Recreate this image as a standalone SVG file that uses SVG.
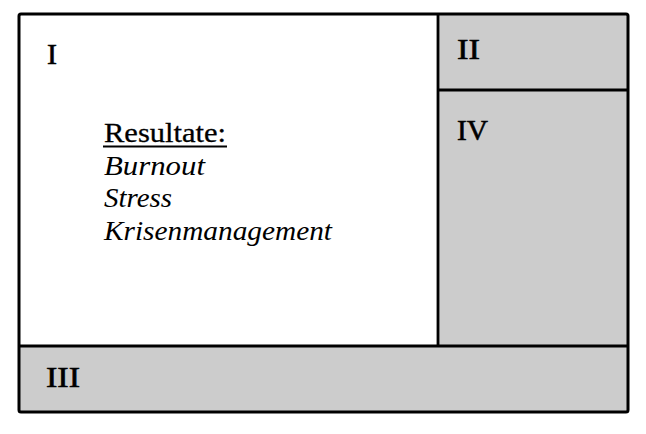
<svg xmlns="http://www.w3.org/2000/svg" width="646" height="434" viewBox="0 0 646 434">
<style>
.t{font-family:"Liberation Serif","Times New Roman",serif;font-size:28px;fill:#000;stroke:#000;stroke-width:0.3}
.r{font-size:30px;stroke-width:0.6}
.i{font-style:italic;stroke-width:0}
.g{fill:#cccccc}
.ln{stroke:#000;stroke-width:2.8;fill:none}
</style>
<rect x="0" y="0" width="646" height="434" fill="#fff"/>
<g id="quadrant-I">
<rect x="19" y="14" width="419" height="332" fill="#fff"/>
<text class="t r" x="47" y="64" textLength="10" lengthAdjust="spacingAndGlyphs">I</text>
<text class="t" x="104" y="142" textLength="122" lengthAdjust="spacingAndGlyphs">Resultate:</text>
<line x1="103" y1="146.5" x2="227" y2="146.5" stroke="#000" stroke-width="1.8"/>
<text class="t i" x="104" y="175" textLength="101" lengthAdjust="spacingAndGlyphs">Burnout</text>
<text class="t i" x="104" y="207" textLength="68" lengthAdjust="spacingAndGlyphs">Stress</text>
<text class="t i" x="104" y="240" textLength="228" lengthAdjust="spacingAndGlyphs">Krisenmanagement</text>
</g>
<g id="quadrant-II">
<rect class="g" x="438" y="14" width="190" height="76"/>
<text class="t r" x="457" y="59" textLength="23" lengthAdjust="spacingAndGlyphs">II</text>
</g>
<g id="quadrant-IV">
<rect class="g" x="438" y="90" width="190" height="256"/>
<text class="t r" x="457" y="140" textLength="31" lengthAdjust="spacingAndGlyphs">IV</text>
</g>
<g id="quadrant-III">
<rect class="g" x="19" y="346" width="609" height="66"/>
<text class="t r" x="46" y="387" textLength="34" lengthAdjust="spacingAndGlyphs">III</text>
</g>
<g id="connectors">
<rect x="19" y="14" width="609" height="398" rx="2" stroke="#000" stroke-width="3" fill="none"/>
<line class="ln" x1="438" y1="14" x2="438" y2="346"/>
<line class="ln" x1="438" y1="90" x2="628" y2="90"/>
<line class="ln" x1="19" y1="346" x2="628" y2="346"/>
</g>
</svg>
